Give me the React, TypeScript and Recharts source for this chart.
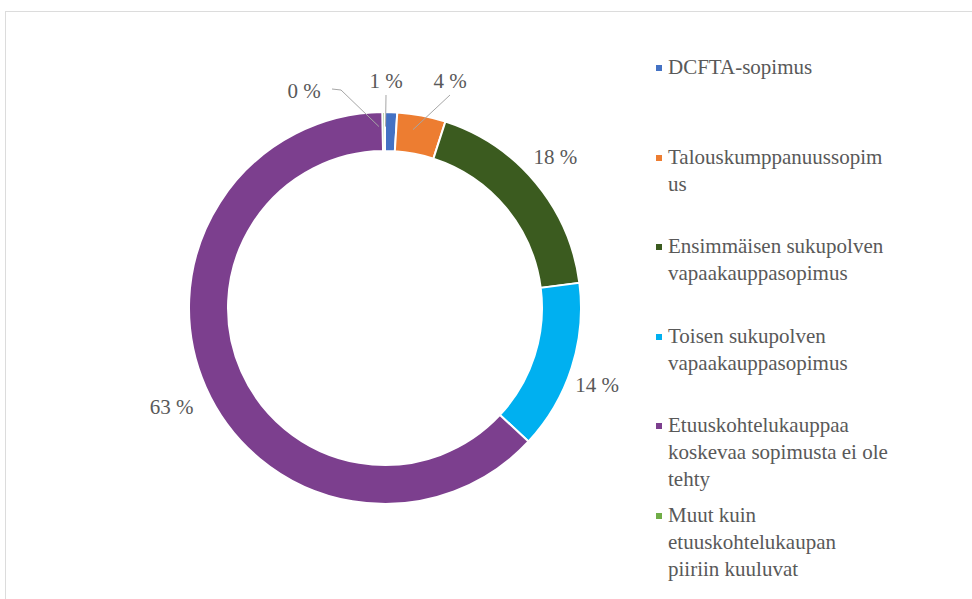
import * as React from "react";
import { PieChart, Pie, Cell, Legend } from "recharts";

// Category names and shares (%), clockwise from 12 o'clock
const categories = [
  "DCFTA-sopimus",
  "Talouskumppanuussopimus",
  "Ensimmäisen sukupolven vapaakauppasopimus",
  "Toisen sukupolven vapaakauppasopimus",
  "Etuuskohtelukauppaa koskevaa sopimusta ei ole tehty",
  "Muut kuin etuuskohtelukaupan piiriin kuuluvat",
];
const shares = [1, 4, 18, 14, 63, 0.2];

// How the legend text wraps in the original
const legendLines = [
  ["DCFTA-sopimus"],
  ["Talouskumppanuussopim", "us"],
  ["Ensimmäisen sukupolven", "vapaakauppasopimus"],
  ["Toisen sukupolven", "vapaakauppasopimus"],
  ["Etuuskohtelukauppaa", "koskevaa sopimusta ei ole", "tehty"],
  ["Muut kuin", "etuuskohtelukaupan", "piiriin kuuluvat"],
];

const colors = ["#4472C4", "#ED7D31", "#3B5B1F", "#00B0F0", "#7C3F8E", "#70AD47"];

const data = categories.map((name, i) => ({ name, value: shares[i] }));

// layout
const CX = 380;
const CY = 303;
const OUTER = 196;
const INNER = 157;
const RAD = Math.PI / 180;
const FONT = "'Times New Roman', 'Liberation Serif', 'DejaVu Serif', serif";
const TEXT = "#595959";

// tiny slices get a callout above the ring (horizontal shift of the label, elbow or not)
const callouts: Record<number, { dx: number; dy: number; elbow?: boolean }> = {
  0: { dx: 6, dy: -26 },
  1: { dx: 70, dy: -26 },
  5: { dx: -76, dy: -16, elbow: true },
};

const pt = (angle: number, r: number) => ({
  x: CX + Math.cos(-angle * RAD) * r,
  y: CY + Math.sin(-angle * RAD) * r,
});

const renderLabel = (props: any) => {
  const { midAngle, index, value } = props;
  const text = `${Math.round(value)} %`;
  const c = callouts[index];
  if (c) {
    const ring = pt(midAngle, (OUTER + INNER) / 2);
    const tx = CX + c.dx;
    const ty = CY - OUTER + c.dy;
    const pts = c.elbow
      ? `${tx + 28},${ty - 2} ${tx + 37},${ty - 1} ${ring.x},${ring.y}`
      : `${tx},${ty + 14} ${ring.x},${ring.y}`;
    return (
      <g key={`lbl-${index}`}>
        <polyline points={pts} fill="none" stroke="#a6a6a6" strokeWidth={1} />
        <text
          x={tx}
          y={ty}
          textAnchor="middle"
          dominantBaseline="central"
          fill={TEXT}
          style={{ fontFamily: FONT, fontSize: 21 }}
        >
          {text}
        </text>
      </g>
    );
  }
  const p = pt(midAngle, OUTER + 32);
  return (
    <text
      key={`lbl-${index}`}
      x={p.x}
      y={p.y + (p.y > CY ? 12 : 0)}
      textAnchor="middle"
      dominantBaseline="central"
      fill={TEXT}
      style={{ fontFamily: FONT, fontSize: 21 }}
    >
      {text}
    </text>
  );
};

const LegendBox = () => (
  <div style={{ fontFamily: FONT, fontSize: 21, lineHeight: "27px", color: TEXT }}>
    {legendLines.map((lines, i) => (
      <div key={i} style={{ position: "relative", height: 89.5, paddingLeft: 12 }}>
        <span
          style={{
            position: "absolute",
            left: 0,
            top: 11,
            width: 6,
            height: 6,
            background: colors[i],
          }}
        />
        {lines.map((l, j) => (
          <div key={j} style={{ whiteSpace: "nowrap" }}>
            {l}
          </div>
        ))}
      </div>
    ))}
  </div>
);

export default function App() {
  return (
    <div
      style={{
        position: "fixed",
        left: 0,
        top: 0,
        width: 972,
        height: 599,
        background: "#fff",
        overflow: "hidden",
        fontFamily: FONT,
      }}
    >
      <div
        style={{
          position: "absolute",
          left: 5,
          top: 11,
          width: 1000,
          height: 700,
          border: "1px solid #dcdcdc",
        }}
      />
      <PieChart width={972} height={599} style={{ position: "absolute", left: 0, top: 0 }}>
        <Pie
          data={data}
          dataKey="value"
          nameKey="name"
          cx={CX}
          cy={CY}
          innerRadius={INNER}
          outerRadius={OUTER}
          startAngle={90}
          endAngle={-270}
          stroke="#ffffff"
          strokeWidth={2}
          label={renderLabel}
          labelLine={false}
          isAnimationActive={false}
        >
          {data.map((d, i) => (
            <Cell key={d.name} fill={colors[i]} />
          ))}
        </Pie>
        <Legend
          content={<LegendBox />}
          layout="vertical"
          wrapperStyle={{ left: 656, top: 54, width: 310 }}
        />
      </PieChart>
    </div>
  );
}
